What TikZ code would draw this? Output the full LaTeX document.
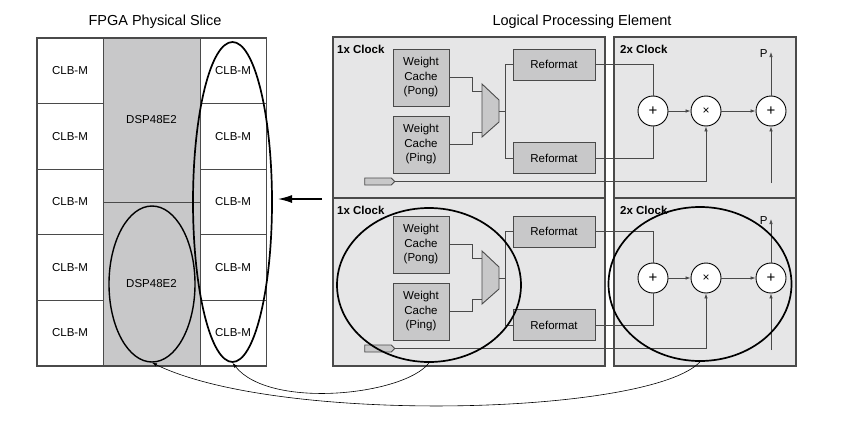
\documentclass[tikz,border=0pt]{standalone}
\usepackage{fontspec}
\setmainfont{Liberation Sans}
\usetikzlibrary{arrows.meta,shapes.geometric,shapes.symbols}

\definecolor{panelgray}{HTML}{E6E6E7}
\definecolor{boxgray}{HTML}{C8C8C9}
\definecolor{linegray}{HTML}{4A4A4A}

\begin{document}
\begin{tikzpicture}[x=1pt,y=-1pt,
    font=\fontsize{11.5}{14.5}\selectfont,
    every node/.style={inner sep=0pt},
    clb/.style={rectangle,draw=linegray,fill=white,line width=0.9pt,
      minimum width=66pt,minimum height=65.5pt},
    dsp/.style={rectangle,draw=linegray,fill=boxgray,line width=0.9pt,minimum width=97pt},
    panel/.style={rectangle,draw=linegray,fill=panelgray,line width=1.1pt},
    cache/.style={rectangle,draw=linegray,fill=boxgray,line width=0.9pt,
      minimum width=56pt,minimum height=57pt,align=center},
    reformat/.style={rectangle,draw=linegray,fill=boxgray,line width=0.9pt,
      minimum width=82pt,minimum height=31pt},
    op/.style={circle,draw=black,fill=white,line width=0.9pt,minimum size=30pt,
      font=\fontsize{15}{15}\selectfont},
    wire/.style={draw=linegray,line width=0.7pt},
    ring/.style={ellipse,draw=black,line width=1.7pt},
    >={Latex[length=5pt,width=3.5pt]}]
    \path[use as bounding box,fill=white] (0,0) rectangle (860,423);

    % physical slice
    \node[font=\fontsize{14.5}{17}\selectfont] (slicetitle) at (155,22) {FPGA Physical Slice};
    \foreach \i in {0,...,4} {
      \node[clb] (clbl\i) at (70,{70.75+65.5*\i}) {CLB-M};
      \node[clb] (clbr\i) at (233,{70.75+65.5*\i}) {CLB-M};
    }
    \node[dsp,minimum height=164pt] (dsptop) at (151.5,120) {DSP48E2};
    \node[dsp,minimum height=163.5pt] (dspbot) at (151.5,283.75) {DSP48E2};
    \draw[linegray,line width=1.1pt] (clbl0.north west) rectangle (clbr4.south east);
    \node[ring,line width=1.4pt,minimum width=86pt,minimum height=156pt] (dspring) at (152,284) {};
    \node[ring,minimum width=79pt,minimum height=320pt] (clbring) at (232.5,202) {};

    \coordinate (maptail) at (322,199);
    \coordinate (maptip) at (278,199);
    \draw[line width=1.3pt,-{Latex[length=14pt,width=8pt]}] (maptail) -- (maptip);

    % processing element
    \node[font=\fontsize{14.5}{17}\selectfont] (petitle) at (582,22) {Logical Processing Element};
    \foreach \r/\dy/\py/\ph in {t/0/37/161, b/167/198/168} {
      \node[panel,minimum width=272pt,minimum height=\ph pt] (pea\r) at (469,{\py+\ph/2}) {};
      \node[panel,minimum width=182pt,minimum height=\ph pt] (peb\r) at (705,{\py+\ph/2}) {};
      \node[anchor=west,font=\fontsize{11.5}{14.5}\selectfont\bfseries] (laba\r) at (337,{\py+12.5}) {1x Clock};
      \node[anchor=west,font=\fontsize{11.5}{14.5}\selectfont\bfseries] (labb\r) at (620,{\py+12.5}) {2x Clock};

      \node[cache] (pong\r) at (421,{77.5+\dy}) {Weight\\Cache\\(Pong)};
      \node[cache] (ping\r) at (421,{144.5+\dy}) {Weight\\Cache\\(Ping)};
      \draw[linegray,line width=0.9pt,fill=boxgray] (482,{84+\dy}) -- (499,{100+\dy})
        -- (499,{122+\dy}) -- (482,{137+\dy}) -- cycle;
      \coordinate (muxa\r) at (482,{91+\dy});
      \coordinate (muxb\r) at (482,{132+\dy});
      \coordinate (muxo\r) at (499,{111+\dy});
      \node[reformat] (reft\r) at (554,{64.5+\dy}) {Reformat};
      \node[reformat] (refb\r) at (554,{158+\dy}) {Reformat};
      \node[signal,signal to=east,draw=linegray,fill=boxgray,line width=0.9pt,
        minimum width=30pt,minimum height=7pt] (tag\r) at (378,{181.5+\dy}) {};

      \node[op] (adda\r) at (653,{111+\dy}) {+};
      \node[op,font=\fontsize{12}{12}\selectfont] (mul\r) at (706,{111+\dy}) {×};
      \node[op] (addb\r) at (771,{111+\dy}) {+};
      \coordinate (pin\r) at (771,{183+\dy});
      \coordinate (pout\r) at (771,{52+\dy});

      \draw[wire] (pong\r.east) -- ++(23,0) |- (muxa\r);
      \draw[wire] (ping\r.east) -- ++(23,0) |- (muxb\r);
      \draw[wire] (muxo\r) -- ++(7,0);
      \draw[wire] (reft\r.west) -- ++(-7,0) |- (refb\r.west);
      \draw[wire] (reft\r.east) -| (adda\r.north);
      \draw[wire] (refb\r.east) -| (adda\r.south);
      \draw[wire,->] (tag\r.east) -| (mul\r.south);
      \draw[wire,->] (adda\r) -- (mul\r);
      \draw[wire,->] (mul\r) -- (addb\r);
      \draw[wire,->] (pin\r) -- (addb\r.south);
      \draw[wire,->] (addb\r.north) -- (pout\r) node[left=3pt,yshift=-2pt] {P};
    }

    % mapping
    \node[ring,minimum width=184pt,minimum height=154pt] (cachering) at (429,285) {};
    \node[ring,minimum width=183pt,minimum height=154pt] (mathring) at (700,284) {};
    \draw[line width=0.6pt,->] (cachering.south) .. controls (405,395) and (270,410) .. (clbring.south);
    \draw[line width=0.6pt,->] (mathring.south) .. controls (650,415) and (280,425) .. (dspring.south);
\end{tikzpicture}
\end{document}
